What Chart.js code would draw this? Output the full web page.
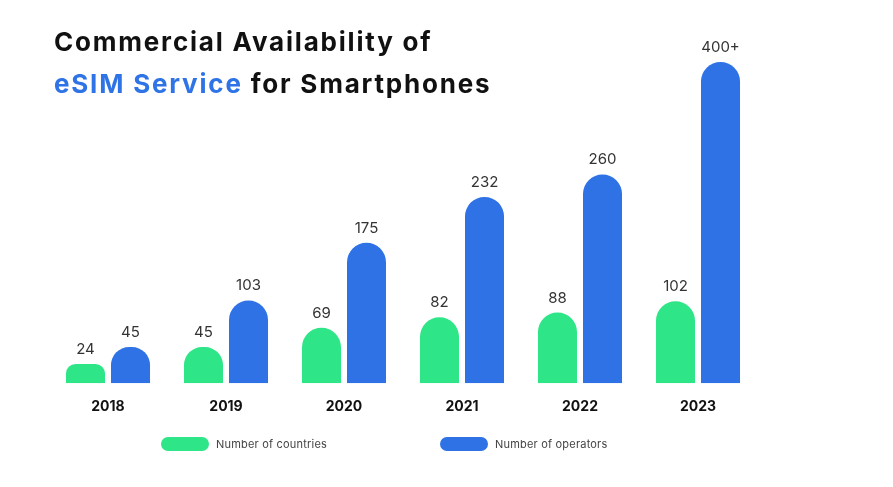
<!DOCTYPE html>
<html><head><meta charset="utf-8">
<script src="https://cdn.jsdelivr.net/npm/chart.js@4.4.1/dist/chart.umd.min.js"></script>
<style>
html,body{margin:0;padding:0;background:#fff;}
#wrap{position:relative;width:893px;height:487px;font-family:Inter,"Noto Sans",sans-serif;}
#chart{position:absolute;left:0;top:0;width:893px;height:487px;}
#title{position:absolute;left:54px;top:21px;font-size:26px;font-weight:700;line-height:42px;color:#111;white-space:nowrap;letter-spacing:1.8px;}
#title .hl{color:#2F74E6;}
#legend{position:absolute;left:161px;top:436px;display:flex;}
#legend .item{width:279px;display:flex;align-items:center;height:16px;}
#legend .pill{width:48px;height:14px;border-radius:7px;margin-right:7px;}
#legend .txt{font-size:11px;color:#444;letter-spacing:0.2px;}
</style></head>
<body>
<div id="wrap">
  <canvas id="chart" width="893" height="487"></canvas>
  <div id="title">Commercial Availability of<br><span class="hl">eSIM Service</span> for Smartphones</div>
  <div id="legend"></div>
</div>
<script>
const years = ["2018","2019","2020","2021","2022","2023"];
const countries = [24, 45, 69, 82, 88, 102];
const operators = [45, 103, 175, 232, 260, 400];
const countryLabels = ["24","45","69","82","88","102"];
const operatorLabels = ["45","103","175","232","260","400+"];
const seriesNames = ["Number of countries","Number of operators"];
const GREEN = "#2EE587";
const BLUE = "#2E72E5";

const valueLabels = {
  id: 'valueLabels',
  afterDatasetsDraw(chart) {
    const ctx = chart.ctx;
    chart.data.datasets.forEach((ds, di) => {
      const meta = chart.getDatasetMeta(di);
      meta.data.forEach((bar, i) => {
        ctx.save();
        ctx.font = '400 15px Inter, "Noto Sans", sans-serif';
        ctx.fillStyle = '#333';
        ctx.textAlign = 'center';
        ctx.textBaseline = 'alphabetic';
        ctx.fillText(ds.valueLabels[i], bar.x, bar.y - 10);
        ctx.restore();
      });
    });
  }
};

const htmlLegend = {
  id: 'htmlLegend',
  afterUpdate(chart) {
    const box = document.getElementById('legend');
    box.innerHTML = '';
    chart.data.datasets.forEach(ds => {
      const item = document.createElement('div'); item.className = 'item';
      const pill = document.createElement('span'); pill.className = 'pill'; pill.style.background = ds.backgroundColor;
      const txt = document.createElement('span'); txt.className = 'txt'; txt.textContent = ds.label;
      item.appendChild(pill); item.appendChild(txt); box.appendChild(item);
    });
  }
};

const radius = {topLeft: 20, topRight: 20, bottomLeft: 0, bottomRight: 0};

new Chart(document.getElementById('chart'), {
  type: 'bar',
  data: {
    labels: years,
    datasets: [
      {label: seriesNames[0], data: countries, valueLabels: countryLabels, backgroundColor: GREEN, borderRadius: radius, borderSkipped: 'bottom', categoryPercentage: 0.763, barPercentage: 0.867},
      {label: seriesNames[1], data: operators, valueLabels: operatorLabels, backgroundColor: BLUE, borderRadius: radius, borderSkipped: 'bottom', categoryPercentage: 0.763, barPercentage: 0.867}
    ]
  },
  options: {
    responsive: false,
    animation: false,
    layout: {padding: {top: 62, left: 49, right: 136, bottom: 57}},
    plugins: {legend: {display: false}, tooltip: {enabled: false}},
    scales: {
      x: {
        grid: {display: false, drawTicks: false},
        border: {display: false},
        ticks: {padding: 15, color: '#111', font: {family: 'Inter, "Noto Sans", sans-serif', size: 14, weight: '700'}}
      },
      y: {display: false, min: 0, max: 400}
    }
  },
  plugins: [valueLabels, htmlLegend]
});
</script>
</body></html>
